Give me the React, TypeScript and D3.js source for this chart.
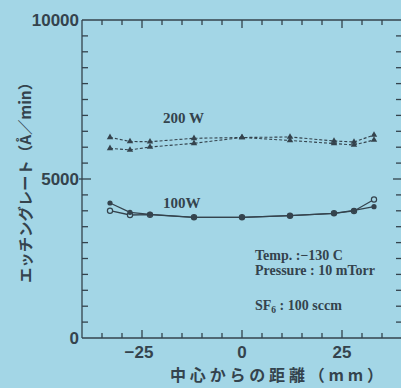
import * as d3 from "d3";

// positions along the wafer (mm)
const positions = [-33, -28, -23, -12, 0, 12, 23, 28, 33];

// 100 W, filled circles / open circles (Å/min)
const w100Filled = [4245, 3953, 3890, 3795, 3795, 3846, 3921, 4010, 4129];
const w100Open = [4003, 3868, 3877, 3795, 3795, 3846, 3921, 3994, 4355];

// 200 W, two runs (triangles, dashed)
const w200Upper = [6311, 6179, 6173, 6280, 6305, 6321, 6195, 6164, 6384];
const w200Lower = [5965, 5912, 6006, 6123, 6305, 6211, 6116, 6069, 6226];

const xTickLabels = [-25, 0, 25];
const yTickLabels = [0, 5000, 10000];

const W = 401;
const H = 388;
const bg = "#a3d6e6";
const ink = "#34434d";

export default function App() {
  const x = d3.scaleLinear().domain([-40, 40]).range([82, 402]);
  const y = d3.scaleLinear().domain([0, 10000]).range([338, 20]);

  const line = d3
    .line<[number, number]>()
    .x((d) => x(d[0]))
    .y((d) => y(d[1]));

  const pts = (vals: number[]) => positions.map((p, i) => [p, vals[i]] as [number, number]);

  const xMinor = d3.range(-35, 40, 5);
  const yMinor = d3.range(500, 10000, 500);

  const tri = d3.symbol().type(d3.symbolTriangle).size(18)();

  const tickFont = "'Liberation Sans', Arial, sans-serif";
  const serif = "'Liberation Serif', 'Times New Roman', serif";
  const cjk = "'Noto Sans CJK JP', sans-serif";

  return (
    <svg width={W} height={H} style={{ position: "absolute", left: 0, top: 0, background: bg }}>
      <rect width={W} height={H} fill={bg} />
      {/* frame */}
      <g stroke={ink} strokeWidth={1.3} fill="none">
        <line x1={x(-40)} x2={x(40)} y1={y(10000)} y2={y(10000)} />
        <line x1={x(-40)} x2={x(40)} y1={y(0)} y2={y(0)} />
        <line x1={x(-40)} x2={x(-40)} y1={y(0)} y2={y(10000)} />
        <line x1={x(40)} x2={x(40)} y1={y(0)} y2={y(10000)} />
        {xMinor.map((t) => {
          const len = t % 25 === 0 ? 8 : 5;
          return (
            <g key={"xt" + t}>
              <line x1={x(t)} x2={x(t)} y1={y(0)} y2={y(0) - len} />
              <line x1={x(t)} x2={x(t)} y1={y(10000)} y2={y(10000) + len} />
            </g>
          );
        })}
        {yMinor.map((t) => {
          const len = t % 5000 === 0 ? 9 : 6;
          return (
            <g key={"yt" + t}>
              <line x1={x(-40) - (t % 5000 === 0 ? 3 : 0)} x2={x(-40) + len} y1={y(t)} y2={y(t)} />
              <line x1={x(40)} x2={x(40) - len} y1={y(t)} y2={y(t)} />
            </g>
          );
        })}
      </g>

      {/* tick labels */}
      <g fill={ink} fontFamily={tickFont} fontSize={17} fontWeight="bold">
        {yTickLabels.map((t) => (
          <text key={"yl" + t} x={x(-40) - 3} y={y(t) + 6} textAnchor="end">
            {t}
          </text>
        ))}
        {xTickLabels.map((t) => (
          <text key={"xl" + t} x={x(t) - (t < 0 ? 3 : 0)} y={y(0) + 20} textAnchor="middle">
            {t < 0 ? "−" + Math.abs(t) : t}
          </text>
        ))}
      </g>

      {/* axis titles */}
      <text
        x={170}
        y={381}
        fill={ink}
        fontFamily={cjk}
        fontSize={16}
        fontWeight="bold"
        textLength={213}
        lengthAdjust="spacing"
      >
        中心からの距離（mm）
      </text>
      <text
        transform={`translate(31,283) rotate(-90)`}
        fill={ink}
        fontFamily={cjk}
        fontSize={15}
        fontWeight="bold"
        textLength={208}
        lengthAdjust="spacingAndGlyphs"
      >
        エッチングレート（Å／min）
      </text>

      {/* 200 W dashed */}
      <g fill="none" stroke={ink} strokeWidth={1.1} strokeDasharray="3,2">
        <path d={line(pts(w200Upper)) ?? ""} />
        <path d={line(pts(w200Lower)) ?? ""} />
      </g>
      <g fill={ink}>
        {[w200Upper, w200Lower].map((s, si) =>
          pts(s).map((d, i) => (
            <path key={`t${si}-${i}`} d={tri ?? ""} transform={`translate(${x(d[0])},${y(d[1])})`} />
          ))
        )}
      </g>

      {/* 100 W solid */}
      <g fill="none" stroke={ink} strokeWidth={1.3}>
        <path d={line(pts(w100Open)) ?? ""} />
        <path d={line(pts(w100Filled)) ?? ""} />
      </g>
      {pts(w100Open).map((d, i) => (
        <circle key={"o" + i} cx={x(d[0])} cy={y(d[1])} r={2.6} fill={bg} stroke={ink} strokeWidth={1.2} />
      ))}
      {pts(w100Filled).map((d, i) => (
        <circle key={"f" + i} cx={x(d[0])} cy={y(d[1])} r={2.6} fill={ink} />
      ))}

      {/* series labels */}
      <g fill={ink} fontFamily={serif} fontSize={15} fontWeight="bold">
        <text x={163} y={123}>200 W</text>
        <text x={163} y={208}>100W</text>
      </g>

      {/* conditions */}
      <g fill={ink} fontFamily={serif} fontSize={14} fontWeight="bold">
        <text x={255} y={260}>Temp. :−130 C</text>
        <text x={255} y={275}>Pressure : 10 mTorr</text>
        <text x={255} y={310}>
          SF<tspan fontSize={9.5} dy={3}>6</tspan>
          <tspan dy={-3}> : 100 sccm</tspan>
        </text>
      </g>
    </svg>
  );
}
